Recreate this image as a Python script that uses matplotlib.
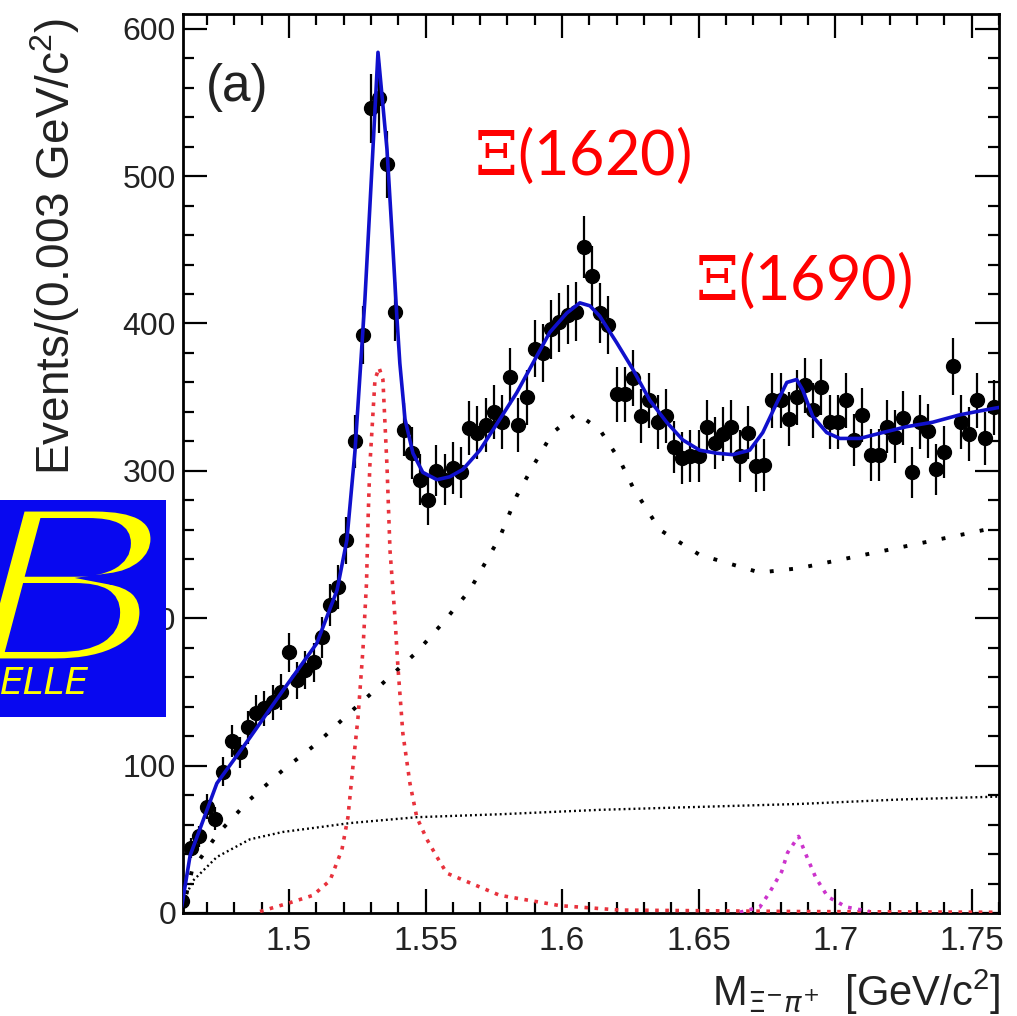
import numpy as np
import matplotlib
matplotlib.use("Agg")
import matplotlib.pyplot as plt
from matplotlib.ticker import MultipleLocator
from matplotlib.textpath import TextPath
from matplotlib.font_manager import FontProperties
from matplotlib.patches import PathPatch, Rectangle
from matplotlib.transforms import Affine2D

# ---------------- data ----------------
bin_first = 1.4610
bin_width = 0.003
counts = [8, 44, 52, 72, 64, 96, 117, 109, 126, 136,
          139, 143, 150, 177, 158, 165, 170, 187, 209, 221,
          253, 320, 392, 546, 553, 508, 408, 328, 312, 294,
          280, 300, 294, 302, 299, 329, 326, 331, 340, 333,
          364, 331, 350, 383, 380, 396, 401, 406, 408, 452,
          432, 407, 399, 352, 352, 363, 337, 348, 333, 337,
          316, 309, 310, 310, 330, 319, 325, 330, 310, 326,
          303, 304, 348, 348, 335, 350, 358, 341, 357, 333,
          333, 348, 321, 338, 311, 311, 330, 323, 336, 299,
          333, 327, 301, 313, 371, 333, 325, 348, 322, 343]

total_x = [1.4608, 1.4638, 1.4736, 1.4857, 1.4978, 1.5102, 1.5176, 1.5212, 1.5242, 1.5278,
           1.5304, 1.5326, 1.5359, 1.5381, 1.5395, 1.5406, 1.5425, 1.5454, 1.5490, 1.5542,
           1.5589, 1.5637, 1.5699, 1.5772, 1.5834, 1.5893, 1.5955, 1.6017, 1.6065, 1.6102,
           1.6138, 1.6200, 1.6259, 1.6321, 1.6383, 1.6442, 1.6504, 1.6566, 1.6625, 1.6687,
           1.6735, 1.6786, 1.6823, 1.6859, 1.6881, 1.6918, 1.6969, 1.7017, 1.7090, 1.7174,
           1.7262, 1.7357, 1.7456, 1.7540, 1.7599]
total_y = [5, 39, 88, 119, 151, 183, 219, 253, 314, 416,
           506, 584, 518, 450, 405, 373, 335, 312, 299, 294,
           296, 301, 314, 335, 353, 373, 394, 407, 414, 412,
           405, 387, 369, 348, 333, 321, 314, 312, 311, 314,
           326, 346, 360, 362, 355, 337, 326, 322, 322, 326,
           330, 333, 338, 341, 343]

xi1530_x = [1.4894, 1.5004, 1.5088, 1.5150, 1.5194, 1.5216, 1.5234, 1.5253, 1.5271, 1.5284,
            1.5290, 1.5296, 1.5315, 1.5330, 1.5344, 1.5359, 1.5370, 1.5388, 1.5399, 1.5417,
            1.5443, 1.5468, 1.5505, 1.5542, 1.5578, 1.5772, 1.5992, 1.6211, 1.6870, 1.7599]
xi1530_y = [1, 7, 12, 22, 43, 65, 99, 133, 179, 224,
            269, 303, 362, 370, 362, 303, 246, 201, 167, 122,
            88, 65, 50, 38, 27, 12, 5, 2, 1, 0.5]

bkg1620_x = [1.4608, 1.4645, 1.4740, 1.4857, 1.4978, 1.5102, 1.5223, 1.5344, 1.5468, 1.5564,
             1.5662, 1.5772, 1.5834, 1.5893, 1.5966, 1.6054, 1.6138, 1.6212, 1.6259, 1.6310,
             1.6358, 1.6504, 1.6724, 1.6870, 1.7053, 1.7236, 1.7419, 1.7599]
bkg1620_y = [0, 29, 54, 77, 97, 115, 136, 156, 177, 197,
             219, 255, 283, 303, 326, 339, 328, 307, 289, 274,
             260, 243, 231, 234, 241, 248, 255, 262]

bkg_x = [1.4608, 1.4623, 1.4649, 1.4736, 1.4857, 1.4978, 1.5102, 1.5223, 1.5344, 1.5468,
         1.5772, 1.6138, 1.6504, 1.6870, 1.7236, 1.7599]
bkg_y = [0, 12, 22, 38, 50, 55, 58, 61, 63, 65,
         67, 70, 72, 74, 77, 79]

xi1690_x = [1.6651, 1.6724, 1.6760, 1.6804, 1.6826, 1.6866, 1.6899, 1.6929, 1.6973, 1.7042, 1.7126]
xi1690_y = [0.5, 4, 14, 28, 41, 52, 37, 24, 11, 4, 1]

x_ticks = [1.5, 1.55, 1.6, 1.65, 1.7, 1.75]
x_ticklabels = ["1.5", "1.55", "1.6", "1.65", "1.7", "1.75"]
y_ticks = [0, 100, 200, 300, 400, 500, 600]

# ---------------- figure ----------------
W, H = 1017, 1016
fig = plt.figure(figsize=(W / 100, H / 100), dpi=100)
fig.patch.set_facecolor("white")
ax = fig.add_axes([183 / W, 1 - 913 / H, (999 - 183) / W, (913 - 14) / H])

centers = bin_first + bin_width * np.arange(len(counts))
cnt = np.array(counts, dtype=float)

ax.plot(bkg_x, bkg_y, color="black", lw=1.7, ls=(0, (0.8, 1.3)), zorder=3)
ax.plot(bkg1620_x, bkg1620_y, color="black", lw=2.8, ls=(0, (1.0, 4.0)), zorder=3)
ax.plot(xi1530_x, xi1530_y, color="#e8323c", lw=2.6, ls=(0, (1.0, 1.8)), zorder=3)
ax.plot(xi1690_x, xi1690_y, color="#cc33cc", lw=2.6, ls=(0, (1.0, 1.8)), zorder=3)

ax.errorbar(centers, cnt, yerr=np.sqrt(cnt), fmt="o", color="black", ms=10,
            elinewidth=1.6, capsize=0, zorder=4)
ax.plot(total_x, total_y, color="#1010cc", lw=2.6, zorder=5)

ax.set_xlim(1.4612, 1.7600)
ax.set_ylim(0, 610)

ax.set_xticks(x_ticks)
ax.set_xticklabels(x_ticklabels)
ax.set_yticks(y_ticks)
ax.xaxis.set_minor_locator(MultipleLocator(0.01))
ax.yaxis.set_minor_locator(MultipleLocator(20))
ax.tick_params(which="both", direction="in", top=True, right=True, width=1.6, color="black")
ax.tick_params(which="major", length=17)
ax.tick_params(which="minor", length=8)
ax.tick_params(axis="y", which="major", labelsize=23, pad=5)
ax.tick_params(axis="x", which="major", labelsize=24, pad=9)
for lab in ax.get_xticklabels() + ax.get_yticklabels():
    lab.set_family("Liberation Sans")
    lab.set_color("#222222")
for s in ax.spines.values():
    s.set_linewidth(2.0)

# labels
fig.text(55 / W, 1 - 18 / H, r"Events/(0.003 GeV/c$^{\mathregular{2}}$)", rotation=90,
         ha="center", va="top", fontsize=33, family="Liberation Sans", color="#222222")
fig.text(1000 / W, 1 - 992 / H, r"M$_{\Xi^{-}\pi^{+}}$  [GeV/c$^{\mathregular{2}}$]",
         ha="right", va="center", fontsize=30, family="Liberation Sans", color="#222222")
fig.text(206 / W, 1 - 88 / H, "(a)", ha="left", va="center", fontsize=37,
         family="Liberation Sans", color="#222222")

t1 = fig.text(582 / W, 1 - 155 / H, r"$\Xi$(1620)", ha="center", va="center",
              fontsize=44, family="Lato", color="red")
t1.set_math_fontfamily("dejavuserif")
t2 = fig.text(803 / W, 1 - 280 / H, r"$\Xi$(1690)", ha="center", va="center",
              fontsize=44, family="Lato", color="red")
t2.set_math_fontfamily("dejavuserif")

# Belle logo
logo_blue = "#0808f0"
fig.add_artist(Rectangle((0, 1 - 717 / H), 166 / W, 217 / H, transform=fig.transFigure,
                         facecolor=logo_blue, edgecolor="none", zorder=10))
tp = TextPath((0, 0), "B", size=100,
              prop=FontProperties(family="DejaVu Sans", style="oblique"))
bb = tp.get_extents()
x0, x1 = -22 / W, 156 / W
y0, y1 = 1 - 664 / H, 1 - 506 / H
tr = Affine2D().translate(-bb.x0, -bb.y0).scale((x1 - x0) / bb.width, (y1 - y0) / bb.height).translate(x0, y0)
fig.add_artist(PathPatch(tr.transform_path(tp), transform=fig.transFigure,
                         facecolor="#ffff00", edgecolor=logo_blue, lw=8, zorder=11))
fig.text(0 / W, 1 - 684 / H, "ELLE", ha="left", va="center", fontsize=27, style="italic",
         family="DejaVu Sans", color="#ffff00", zorder=12)

fig.savefig("out.png", dpi=100)
